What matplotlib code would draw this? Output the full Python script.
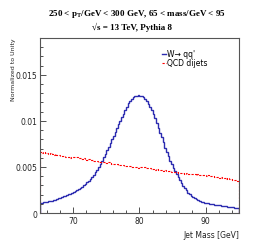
import numpy as np
import matplotlib
matplotlib.use('Agg')
import matplotlib.pyplot as plt

# binning: 120 bins of 0.25 GeV between 65 and 95
bin_edges = np.linspace(65, 95, 121)

# W -> qq' signal (normalized, units of 1e-4)
w_signal = [10.8, 11.2, 11.6, 12.0, 12.3, 12.6, 13.0, 13.6, 14.0, 14.6, 15.3, 16.0,
            16.8, 17.4, 18.1, 18.7, 19.5, 20.2, 21.2, 22.0, 23.0, 24.1, 25.0, 26.3,
            27.4, 28.8, 30.0, 31.7, 33.2, 35.0, 36.8, 39.0, 41.3, 44.0, 47.0, 50.2,
            53.5, 57.0, 60.8, 64.4, 68.3, 72.0, 76.2, 80.0, 84.0, 88.3, 92.0, 96.2,
            100.0, 104.3, 108.0, 111.8, 115.5, 119.0, 122.0, 124.0, 125.5, 126.8, 127.5, 128.0,
            127.5, 127.0, 125.6, 123.8, 121.5, 118.6, 115.5, 111.8, 107.5, 102.6, 97.8, 92.6,
            87.3, 82.0, 76.6, 71.0, 66.2, 61.5, 57.0, 52.8, 49.0, 45.5, 42.0, 38.6,
            35.4, 32.2, 29.5, 26.8, 24.5, 22.2, 20.3, 18.6, 17.1, 15.8, 14.8, 13.9,
            13.1, 12.4, 11.9, 11.4, 11.0, 10.5, 10.1, 9.8, 9.4, 9.1, 8.8, 8.5,
            8.2, 7.9, 7.6, 7.4, 7.1, 6.9, 6.6, 6.4, 6.2, 6.0, 5.8, 5.6]

# QCD dijets background (normalized, units of 1e-4)
qcd_dijets = [66.2, 65.5, 66.0, 65.2, 65.0, 64.6, 65.1, 64.0, 63.5, 63.9, 62.8, 62.6,
              62.4, 61.5, 62.0, 61.0, 60.8, 61.2, 60.1, 60.5, 61.0, 60.3, 60.6, 59.6,
              59.5, 58.8, 59.2, 58.3, 58.0, 58.5, 57.6, 57.4, 57.0, 56.4, 56.9, 55.9,
              55.8, 55.2, 55.6, 54.6, 54.5, 54.9, 53.8, 53.5, 53.6, 52.8, 53.2, 52.4,
              52.2, 52.6, 51.6, 51.4, 51.2, 50.6, 51.0, 50.2, 50.0, 49.6, 50.2, 49.4,
              50.5, 49.8, 49.5, 49.9, 48.8, 48.5, 48.9, 47.9, 47.8, 47.2, 47.6, 46.8,
              46.9, 46.3, 46.0, 46.4, 45.6, 45.2, 45.5, 44.8, 44.5, 44.9, 44.0, 43.8,
              43.9, 43.3, 43.6, 42.9, 43.0, 42.7, 42.4, 42.8, 42.0, 42.3, 41.6, 41.9,
              41.2, 41.5, 40.8, 41.0, 40.4, 40.9, 40.1, 39.8, 40.0, 39.2, 39.6, 38.8,
              38.5, 39.0, 38.1, 37.8, 37.4, 37.9, 36.8, 36.5, 36.0, 35.4, 35.8, 35.0]

title_lines = ["250 < p$_\\mathregular{T}$/GeV < 300 GeV, 65 < mass/GeV < 95",
               "\u221as = 13 TeV, Pythia 8"]

w = np.array(w_signal) * 1e-4
q = np.array(qcd_dijets) * 1e-4

fig = plt.figure(figsize=(2.66, 2.53), dpi=100)
ax = fig.add_axes([0.150, 0.154, 0.748, 0.692])

ax.stairs(w, bin_edges, color='#2b2bb0', lw=1.0, label="W\u2192 qq'")
ax.stairs(q, bin_edges, color='red', lw=0.8, ls=(0, (2, 1.2)), label='QCD dijets')

ax.set_xlim(65, 95)
ax.set_ylim(0, 0.019)
ax.set_xticks([70, 80, 90])
ax.set_xticks(np.arange(66, 95, 2), minor=True)
ax.set_yticks([0, 0.005, 0.01, 0.015])
ax.set_yticklabels(['0', '0.005', '0.01', '0.015'])
ax.set_yticks(np.arange(0, 0.0191, 0.001), minor=True)
ax.tick_params(which='both', direction='in', labelsize=5.5, colors='#333333',
               labelcolor='#222222', width=0.6)
ax.tick_params(which='major', length=4, pad=2)
ax.tick_params(which='minor', length=2)
for s in ax.spines.values():
    s.set_color('#555555')
    s.set_linewidth(0.8)

ax.set_xlabel('Jet Mass [GeV]', fontsize=5.5, loc='right', color='#222222')
ax.set_ylabel('Normalized to Unity', fontsize=4.5, loc='top', color='#222222')
ax.yaxis.set_label_coords(-0.12, 1.005)

ax.legend(loc='upper left', bbox_to_anchor=(0.585, 0.97), frameon=False, fontsize=5.5,
          handlelength=0.45, handletextpad=0.15, labelspacing=0.0, borderpad=0.3)

fig.text(0.515, 0.945, title_lines[0], ha='center', va='center', fontsize=6.5,
         family='Liberation Serif', weight='bold')
fig.text(0.497, 0.89, title_lines[1], ha='center', va='center', fontsize=6.5,
         family='Liberation Serif', weight='bold')

fig.savefig('out.png', dpi=100)
